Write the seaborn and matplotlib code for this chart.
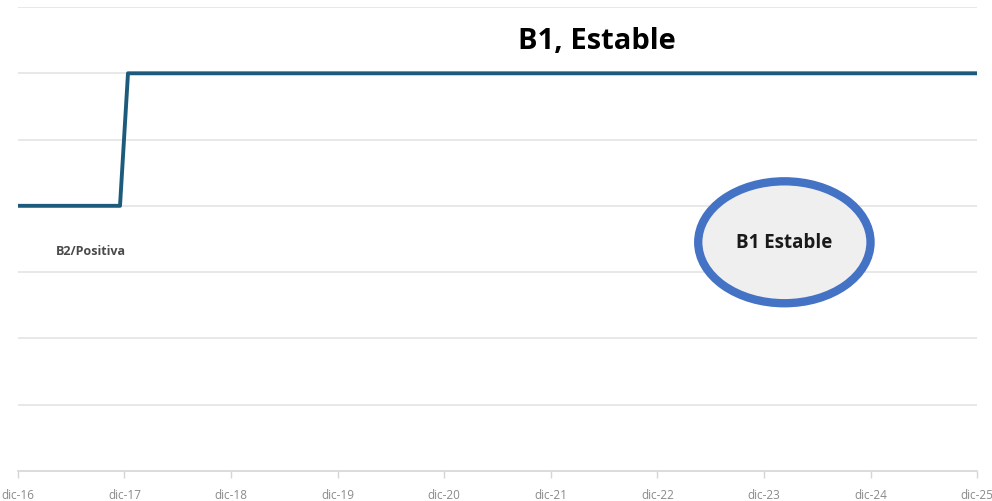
import matplotlib
matplotlib.use("Agg")
import matplotlib.pyplot as plt
from matplotlib.patches import Ellipse
import seaborn as sns
import pandas as pd

# Data
month_pos = [0, 11.5, 12.4, 108]          # months since dic-16
rating_level = [4, 4, 6, 6]               # rating level (B2 -> B1)
tick_labels = ["dic-16", "dic-17", "dic-18", "dic-19", "dic-20",
               "dic-21", "dic-22", "dic-23", "dic-24", "dic-25"]
tick_pos = [12 * i for i in range(len(tick_labels))]
grid_levels = [1, 2, 3, 4, 5, 6, 7]

df = pd.DataFrame({"mes": month_pos, "nivel": rating_level})

sns.set_theme(style="white")
plt.rcParams["font.family"] = ["Open Sans", "DejaVu Sans"]

fig = plt.figure(figsize=(9.92, 5.02), dpi=100)
ax = fig.add_axes([0.018, 0.06, 0.967, 0.924])

for g in grid_levels:
    ax.axhline(g, color="#e6e6e6", lw=1.3, zorder=0)

sns.lineplot(data=df, x="mes", y="nivel", ax=ax, color="#1d5b7c", lw=2.8,
             estimator=None, sort=False)

ax.set_xlim(0, 108)
ax.set_ylim(0, 7)
ax.set_xticks(tick_pos)
ax.set_xticklabels(tick_labels, fontsize=8.5, color="#8a8a8a")
ax.set_yticks([])
ax.set_xlabel("")
ax.set_ylabel("")
for s in ["top", "left", "right"]:
    ax.spines[s].set_visible(False)
ax.spines["bottom"].set_color("#d6d6d6")
ax.spines["bottom"].set_linewidth(1.2)
ax.tick_params(axis="x", length=5, width=1, color="#d6d6d6", pad=7, bottom=True)

ax.text(8.2, 3.32, "B2/Positiva", fontsize=9, color="#4a4a4a", fontweight="bold",
        ha="center", va="center")

ell = Ellipse((86.3, 3.45), 19.4, 1.84, facecolor="#efefef", edgecolor="#4472c4",
              lw=6, zorder=5)
ax.add_patch(ell)
ax.text(86.3, 3.45, "B1 Estable", fontsize=13.5, fontweight="bold", color="#1a1a1a",
        ha="center", va="center", zorder=6)

fig.text(0.602, 0.918, "B1, Estable", fontsize=21, fontweight="bold", color="black",
         ha="center", va="center")

fig.savefig("out.png", dpi=100)
